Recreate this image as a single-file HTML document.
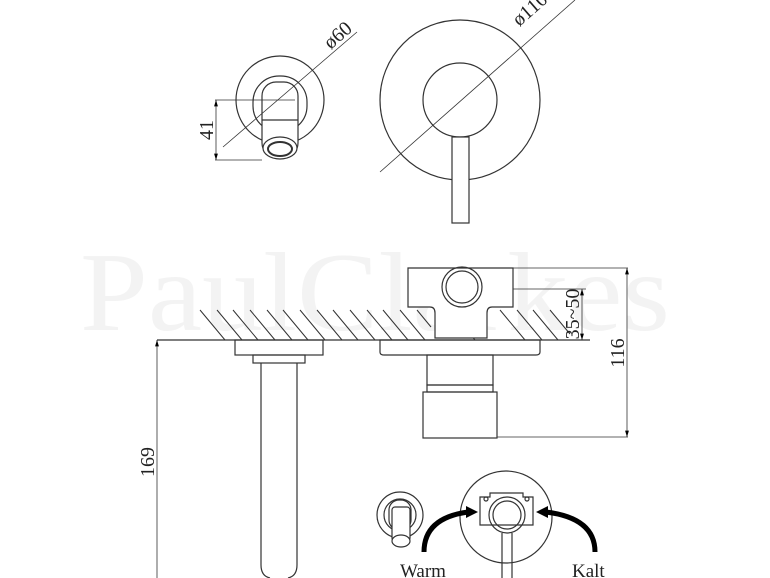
<!DOCTYPE html>
<html><head><meta charset="utf-8"><style>html,body{margin:0;padding:0;background:#fff}svg{display:block}</style></head><body>
<svg width="770" height="578" viewBox="0 0 770 578" xmlns="http://www.w3.org/2000/svg" font-family="Liberation Serif, serif">
<defs>
<marker id="a" viewBox="0 0 10 10" refX="10" refY="5" markerWidth="8" markerHeight="8" orient="auto-start-reverse"><path d="M0,2 L10,5 L0,8 z" fill="#000"/></marker>
</defs>
<text x="80" y="330" font-size="112" fill="#f3f3f3" textLength="590" lengthAdjust="spacingAndGlyphs">PaulClarkes</text>
<g fill="none" stroke="#333" stroke-width="1.2">
<circle cx="280" cy="100" r="44"/>
<rect x="253" y="76" width="54" height="56" rx="26"/>
<rect x="262" y="82" width="36" height="75" rx="14" fill="#fff"/>
<line x1="262" y1="120" x2="298" y2="120"/>
<ellipse cx="280" cy="148" rx="17" ry="11" fill="#fff"/>
<ellipse cx="280" cy="149" rx="12" ry="7" stroke-width="2"/>
<line x1="215" y1="100" x2="295" y2="100" stroke-width="0.8"/>
<line x1="215" y1="160" x2="262" y2="160" stroke-width="0.8"/>
<line x1="216" y1="100" x2="216" y2="160" stroke-width="0.8" marker-start="url(#a)" marker-end="url(#a)"/>
<line x1="223" y1="147" x2="357" y2="32" stroke-width="0.8"/>
<circle cx="460" cy="100" r="80"/>
<circle cx="460" cy="100" r="37"/>
<rect x="452" y="137" width="17" height="86" fill="#fff"/>
<line x1="380" y1="172" x2="575" y2="0" stroke-width="0.8"/>
<line x1="157" y1="340" x2="590" y2="340"/>
<g stroke-width="1">
<path d="M200,310 l25,30 M217,310 l25,30 M233,310 l25,30 M250,310 l25,30 M267,310 l25,30 M283,310 l25,30 M300,310 l25,30 M317,310 l25,30 M333,310 l25,30 M350,310 l25,30 M367,310 l25,30 M383,310 l25,30 M400,310 l25,30 M417,310 l14,17 M450,310 l25,30 M467,310 l20,24 M500,310 l25,30 M517,310 l25,30 M533,310 l25,30 M550,310 l20,24"/>
</g>
<path d="M408,268 H513 V307 H492 Q487,307 487,313 V338 H435 V313 Q435,307 430,307 H408 Z" fill="#fff"/>
<circle cx="462" cy="287" r="20"/>
<circle cx="462" cy="287" r="16"/>
<line x1="513" y1="268" x2="628" y2="268" stroke-width="0.8"/>
<line x1="513" y1="289" x2="586" y2="289" stroke-width="0.8"/>
<line x1="582" y1="289" x2="582" y2="340" stroke-width="0.8" marker-start="url(#a)" marker-end="url(#a)"/>
<line x1="627" y1="268" x2="627" y2="437" stroke-width="0.8" marker-start="url(#a)" marker-end="url(#a)"/>
<line x1="497" y1="437" x2="628" y2="437" stroke-width="0.8"/>
<rect x="235" y="340" width="88" height="15"/>
<rect x="253" y="355" width="52" height="8"/>
<path d="M261,363 V565 Q261,576 270,578 M297,363 V565 Q297,576 288,578"/>
<line x1="157" y1="340" x2="157" y2="578" stroke-width="0.8" marker-start="url(#a)"/>
<path d="M380,340 H540 V352 Q540,355 536,355 H384 Q380,355 380,352 Z"/>
<rect x="427" y="355" width="66" height="30"/>
<rect x="427" y="385" width="66" height="7"/>
<rect x="423" y="392" width="74" height="46"/>
<circle cx="400" cy="515" r="23"/>
<circle cx="400" cy="515" r="16"/>
<rect x="389" y="500" width="22" height="30" rx="10" fill="#fff"/>
<rect x="392" y="507" width="18" height="34" rx="3" fill="#fff"/>
<ellipse cx="401" cy="541" rx="9" ry="6" fill="#fff"/>
<circle cx="506" cy="517" r="46"/>
<path d="M480,497 H490 V493 H523 V497 H533 V525 H480 Z" fill="#fff"/>
<circle cx="486" cy="499" r="2"/><circle cx="527" cy="499" r="2"/>
<circle cx="507" cy="515" r="18"/>
<circle cx="507" cy="515" r="14"/>
<path d="M502,533 V578 M512,533 V578"/>
</g>
<path d="M424,552 Q424,518 468,512" fill="none" stroke="#000" stroke-width="5"/>
<path d="M466,506 L478,512 L466,518 z" fill="#000"/>
<path d="M595,552 Q595,518 546,512" fill="none" stroke="#000" stroke-width="5"/>
<path d="M548,506 L536,512 L548,518 z" fill="#000"/>
<g fill="#222" font-size="20">
<text x="400" y="577" font-size="19">Warm</text>
<text x="572" y="577" font-size="19">Kalt</text>
<text transform="translate(213,130) rotate(-90)" text-anchor="middle">41</text>
<text transform="translate(342,40) rotate(-41)" text-anchor="middle">ø60</text>
<text transform="translate(534,14) rotate(-41)" text-anchor="middle">ø110</text>
<text transform="translate(579,314) rotate(-90)" text-anchor="middle">35~50</text>
<text transform="translate(624,353) rotate(-90)" text-anchor="middle">116</text>
<text transform="translate(154,462) rotate(-90)" text-anchor="middle">169</text>
</g>
</svg>
</body></html>
